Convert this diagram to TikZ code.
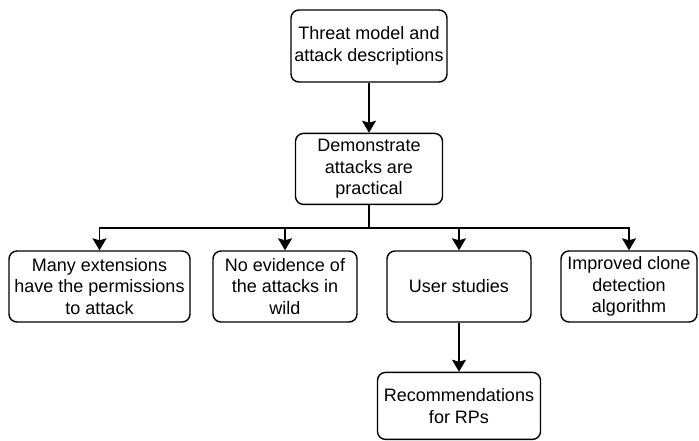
\documentclass[tikz,border=0pt]{standalone}
\usepackage{fontspec}
\setmainfont{Liberation Sans}
\usetikzlibrary{arrows.meta, positioning}
\tikzset{
  box/.style={rectangle, draw=black, fill=white, align=center,
    inner sep=0pt, rounded corners=8pt, line width=1.4pt,
    font=\fontsize{18}{21.6}\selectfont},
  arrow/.style={-{Stealth[length=12pt, width=14pt, inset=2pt]}, line width=1.4pt},
  line/.style={line width=1.4pt}
}

\begin{document}
\begin{tikzpicture}[x=1pt, y=-1pt]
  \useasboundingbox (0,0) rectangle (699,440);
  \node[box, minimum width=156pt, minimum height=72pt] (threat) at (369,46) {Threat model and\\attack descriptions};
  \node[box, minimum width=147pt, minimum height=71pt, below=50pt of threat] (demo) {Demonstrate\\attacks are\\practical};
  \coordinate[below=23pt of demo] (bus);

  \node[box, minimum width=181pt, minimum height=71pt] (perm) at (99.5,286.5) {Many extensions\\have the permissions\\to attack};
  \node[box, minimum width=144pt, minimum height=71pt] (wild) at (285,286.5) {No evidence of\\the attacks in\\wild};
  \node[box, minimum width=144pt, minimum height=71pt] (user) at (459,286.5) {User studies};
  \node[box, minimum width=136pt, minimum height=71pt] (clone) at (629,286.5) {Improved clone\\detection\\algorithm};
  \node[box, minimum width=163pt, minimum height=67pt, below=49pt of user] (recom) {Recommendations\\for RPs};

  \draw[arrow] (threat) -- (demo);
  \draw[line] (demo.south) -- (bus);
  \draw[arrow] (bus) -| (perm.north);
  \draw[arrow] (bus) -| (wild.north);
  \draw[arrow] (bus) -| (user.north);
  \draw[arrow] (bus) -| (clone.north);
  \draw[arrow] (user) -- (recom);
\end{tikzpicture}
\end{document}
